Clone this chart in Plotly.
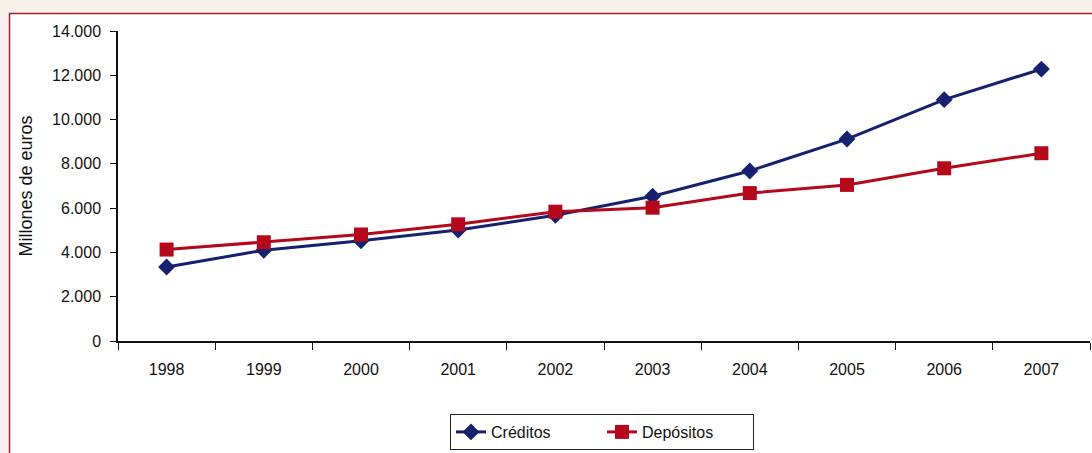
import plotly.graph_objects as go

years = ["1998", "1999", "2000", "2001", "2002", "2003", "2004", "2005", "2006", "2007"]
creditos = [3340, 4100, 4530, 5010, 5680, 6540, 7680, 9120, 10900, 12280]
depositos = [4130, 4460, 4810, 5270, 5840, 6020, 6680, 7050, 7800, 8480]

W, H = 1092, 453
L, R, T, B = 118, 2, 31, 112
pw = W - L - R
ph = H - T - B

def px2x(p):
    return (p - L) / pw

def py2y(p):
    return (H - B - p) / ph

fig = go.Figure()
fig.add_trace(go.Scatter(
    x=years, y=creditos, name="Créditos", mode="lines+markers",
    line=dict(color="#15216f", width=3),
    marker=dict(symbol="diamond", size=13, color="#15216f"),
))
fig.add_trace(go.Scatter(
    x=years, y=depositos, name="Depósitos", mode="lines+markers",
    line=dict(color="#b4081c", width=3),
    marker=dict(symbol="square", size=14, color="#b4081c"),
))

fig.add_shape(type="rect", xref="paper", yref="paper",
              x0=px2x(9.5), x1=px2x(1100), y0=py2y(470), y1=py2y(13.5),
              line=dict(color="#a3202c", width=1.5), fillcolor="white", layer="below")

fig.update_layout(
    width=W, height=H,
    margin=dict(l=L, r=R, t=T, b=B),
    paper_bgcolor="#f8f0eb",
    plot_bgcolor="white",
    separators=",.",
    font=dict(family="Liberation Sans, Arial, sans-serif", size=16, color="#111111"),
    showlegend=True,
    legend=dict(orientation="h", x=px2x(602), xanchor="center", y=py2y(414), yanchor="top",
                bordercolor="#222222", borderwidth=1, bgcolor="white",
                font=dict(size=16), entrywidth=106),
    xaxis=dict(type="category", range=[-0.5, 9.5], tickson="boundaries",
               ticks="outside", ticklen=7, tickcolor="#111", showline=True,
               linecolor="#111", linewidth=1.5, showgrid=False, zeroline=False,
               tickfont=dict(size=16), ticklabelstandoff=13),
    yaxis=dict(range=[0, 14000], dtick=2000, tickformat=",d", ticks="outside",
               ticklen=6, tickcolor="#111", showline=True, linecolor="#111",
               linewidth=1.5, showgrid=False, zeroline=False,
               title=dict(text="Millones de euros", font=dict(size=18), standoff=15),
               tickfont=dict(size=16), ticklabelstandoff=6),
)

fig.write_html("out.html", config={"displayModeBar": False},
               post_script="document.body.style.margin='0';document.body.style.background='#f8f0eb';")
